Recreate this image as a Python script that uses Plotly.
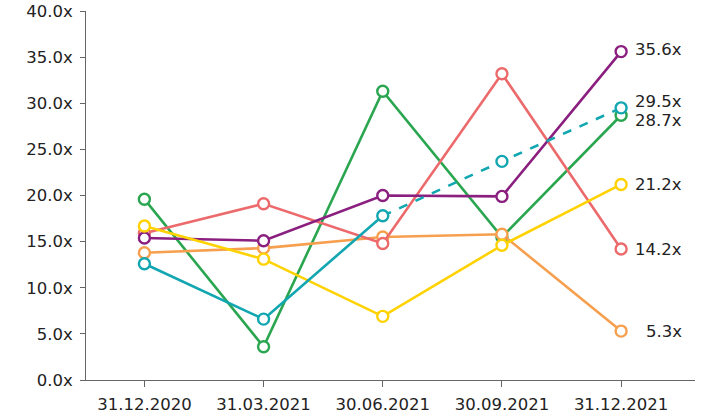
import plotly.graph_objects as go

dates = ["31.12.2020", "31.03.2021", "30.06.2021", "30.09.2021", "31.12.2021"]
green = [19.6, 3.6, 31.3, 15.5, 28.7]
orange = [13.8, 14.3, 15.5, 15.8, 5.3]
red = [15.9, 19.1, 14.8, 33.2, 14.2]
purple = [15.4, 15.1, 20.0, 19.9, 35.6]
yellow = [16.7, 13.1, 6.9, 14.6, 21.2]
teal = [12.6, 6.6, 17.8, 23.7, 29.5]
tick_vals = [0, 5, 10, 15, 20, 25, 30, 35, 40]
tick_text = ["0.0x", "5.0x", "10.0x", "15.0x", "20.0x", "25.0x", "30.0x", "35.0x", "40.0x"]

series = [
    ("green", green, "#2BA650"),
    ("orange", orange, "#F6A04F"),
    ("red", red, "#EC6A6C"),
    ("purple", purple, "#8B1F7F"),
    ("yellow", yellow, "#FFD200"),
]

fig = go.Figure()
marker_common = dict(symbol="circle", size=11, color="white")
for name, vals, col in series:
    fig.add_trace(go.Scatter(
        x=dates, y=vals, mode="lines+markers", name=name,
        line=dict(color=col, width=2.6),
        marker=dict(line=dict(color=col, width=2.4), **marker_common),
        cliponaxis=False,
    ))

teal_col = "#12A6B1"
fig.add_trace(go.Scatter(
    x=dates[:3], y=teal[:3], mode="lines", line=dict(color=teal_col, width=2.6), cliponaxis=False))
fig.add_trace(go.Scatter(
    x=dates[2:], y=teal[2:], mode="lines", line=dict(color=teal_col, width=2.6, dash="dash"), cliponaxis=False))
fig.add_trace(go.Scatter(
    x=dates, y=teal, mode="markers",
    marker=dict(line=dict(color=teal_col, width=2.4), **marker_common), cliponaxis=False))

end_labels = [
    (purple[-1], 2),
    (teal[-1], 6),
    (green[-1], -5),
    (yellow[-1], 0),
    (red[-1], 0),
    (orange[-1], 0),
]
for v, ys in end_labels:
    fig.add_annotation(
        x=dates[-1], y=v, xref="x", yref="y", text=f"{v:.1f}x",
        showarrow=False, xanchor="right", yanchor="middle",
        xshift=63, yshift=ys,
        font=dict(family="DejaVu Sans", size=16.5, color="#222222"),
    )

fig.update_layout(
    width=703, height=416,
    margin=dict(l=86, r=8, t=11, b=36),
    paper_bgcolor="white", plot_bgcolor="white",
    showlegend=False,
    font=dict(family="DejaVu Sans", size=16.5, color="#222222"),
    xaxis=dict(
        type="category", range=[-0.49, 4.62], automargin=False,
        showline=True, linecolor="#666666", linewidth=1,
        ticks="outside", ticklen=6, tickcolor="#666666",
        showgrid=False, zeroline=False, ticklabelstandoff=3,
        tickfont=dict(size=16.5, color="#222222"),
    ),
    yaxis=dict(
        range=[0, 40], tickvals=tick_vals, ticktext=tick_text, automargin=False,
        showline=True, linecolor="#666666", linewidth=1,
        ticks="outside", ticklen=5, tickcolor="#666666",
        showgrid=False, zeroline=False, ticklabelstandoff=4,
        tickfont=dict(size=16.5, color="#222222"),
    ),
)

fig.write_html(
    "out.html",
    config={"displayModeBar": False},
    post_script="document.body.style.margin='0';document.body.style.overflow='hidden';",
)
